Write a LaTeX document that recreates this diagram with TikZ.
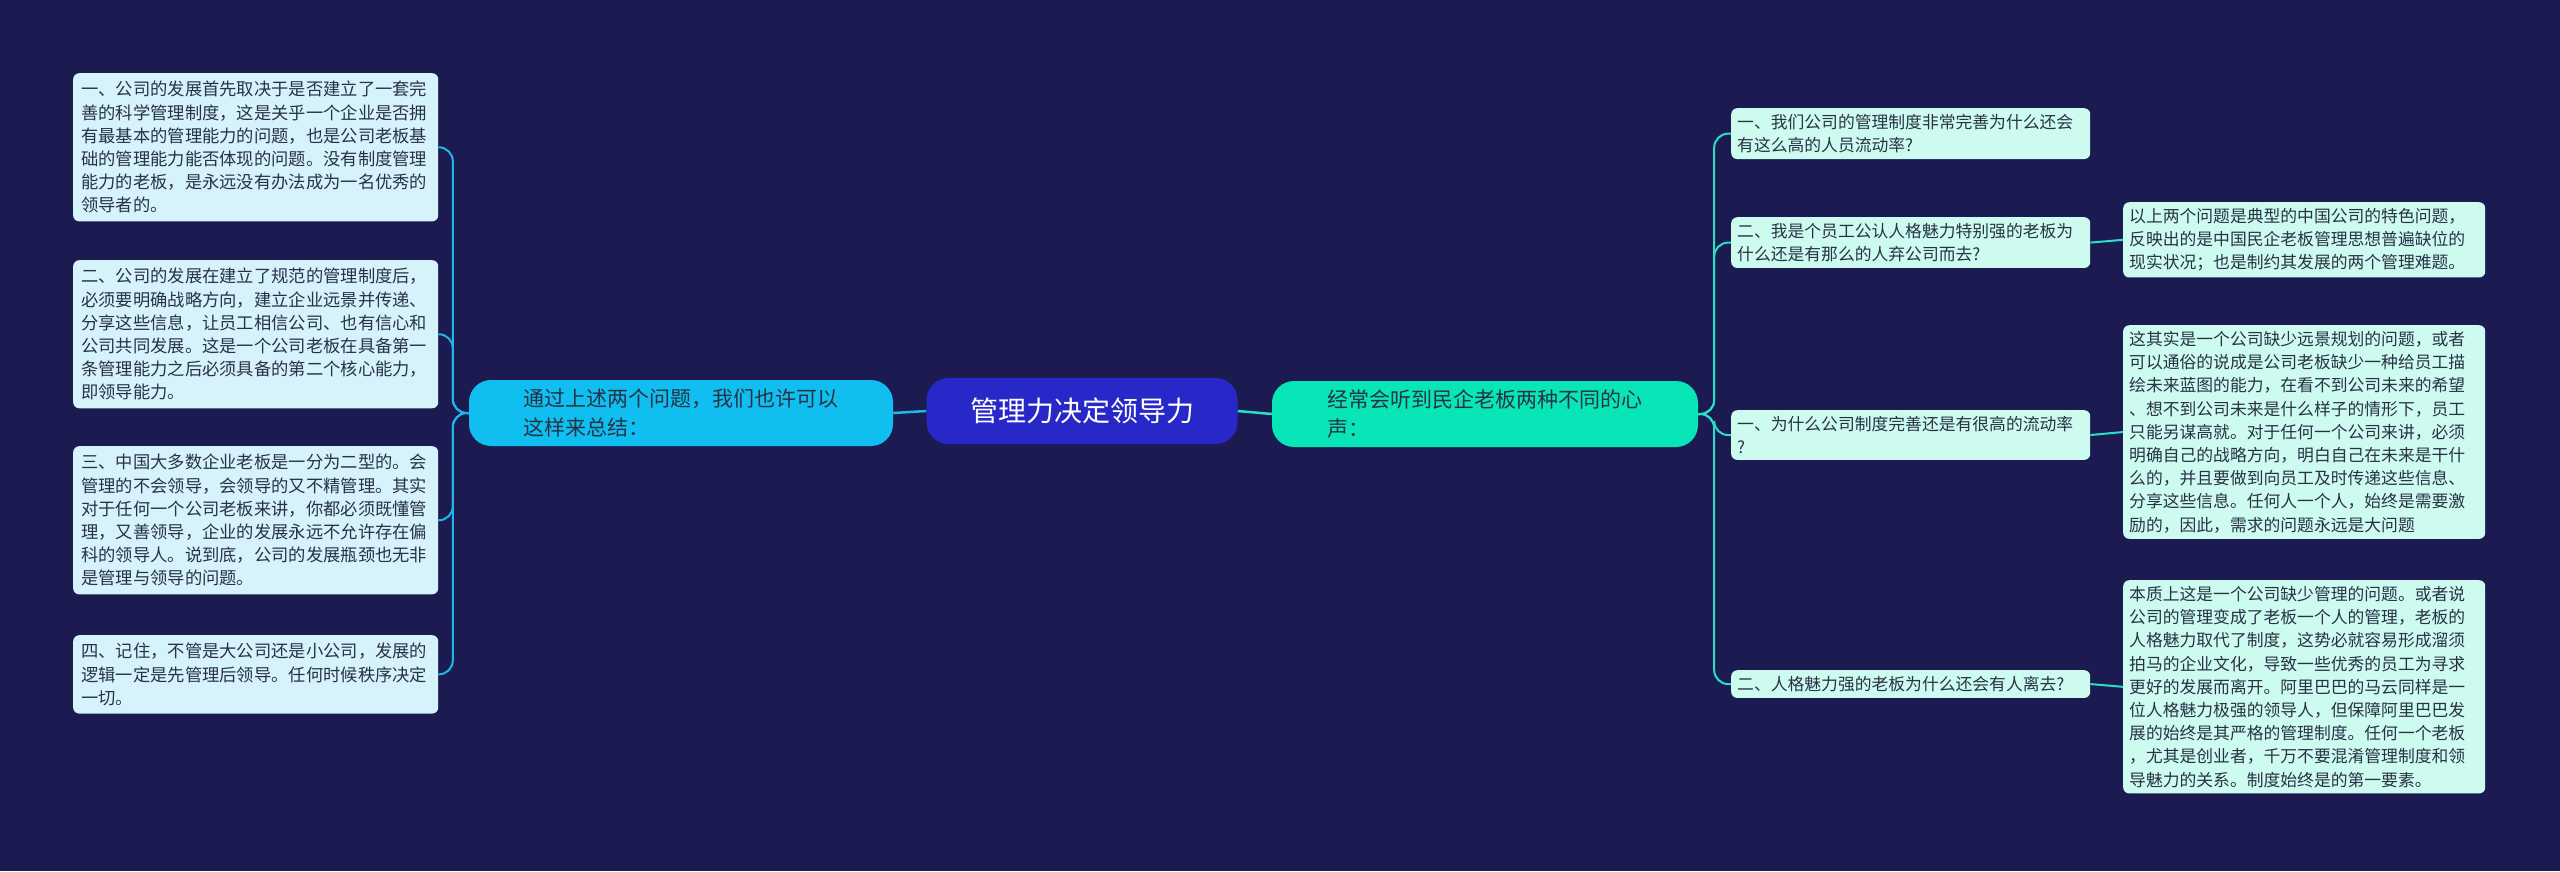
\documentclass[tikz,border=0pt]{standalone}
\usepackage{fontspec}
\setmainfont{Noto Sans CJK SC}
\XeTeXlinebreaklocale "zh"
\usepackage{tikz}
\usetikzlibrary{calc,positioning}
\definecolor{mybg}{RGB}{27,27,82}
\definecolor{mycenter}{RGB}{40,40,200}
\definecolor{myleft}{RGB}{16,190,240}
\definecolor{myright}{RGB}{8,230,184}
\definecolor{myleftleaf}{RGB}{214,243,252}
\definecolor{myrightleaf}{RGB}{206,251,240}
\definecolor{myleftline}{RGB}{30,184,232}
\definecolor{myrightline}{RGB}{40,224,196}
\definecolor{mytext}{RGB}{40,50,70}
\tikzstyle{hub}=[rounded corners=22pt,minimum height=66pt,inner sep=0pt,align=center]
\tikzstyle{leftleaf}=[fill=myleftleaf,rounded corners=6pt,anchor=north west,inner sep=8pt,text width=349pt,align=left,text=mytext,font=\fontsize{17.3}{23.2}\selectfont]
\tikzstyle{rightleaf}=[leftleaf,fill=myrightleaf,inner sep=6pt,font=\fontsize{16.8}{23.2}\selectfont]
\tikzstyle{leftedge}=[myleftline,line width=2pt,rounded corners=14pt]
\tikzstyle{rightedge}=[myrightline,line width=2pt,rounded corners=14pt]
\begin{document}
\begin{tikzpicture}[x=1pt,y=-1pt]
\useasboundingbox (0,0) rectangle (2560,871);
\fill[mybg] (0,0) rectangle (2560,871);
% center and main branches
\node [hub,fill=mycenter,text=white,minimum width=311pt,font=\fontsize{28}{32}\selectfont] (root) at (1082,411) {管理力决定领导力};
\node [hub,fill=myleft,text=mytext,minimum width=424pt,font=\fontsize{21}{29}\selectfont,align=left] (sum) at (681,413) {通过上述两个问题，我们也许可以\\这样来总结：};
\node [hub,fill=myright,text=mytext,minimum width=426pt,font=\fontsize{21}{29}\selectfont,align=left] (voice) at (1485,414) {经常会听到民企老板两种不同的心\\声：};
% left leaves
\node [leftleaf] (l1) at (73,73) {一、公司的发展首先取决于是否建立了一套完\\善的科学管理制度，这是关乎一个企业是否拥\\有最基本的管理能力的问题，也是公司老板基\\础的管理能力能否体现的问题。没有制度管理\\能力的老板，是永远没有办法成为一名优秀的\\领导者的。};
\node [leftleaf] (l2) at (73,260) {二、公司的发展在建立了规范的管理制度后，\\必须要明确战略方向，建立企业远景并传递、\\分享这些信息，让员工相信公司、也有信心和\\公司共同发展。这是一个公司老板在具备第一\\条管理能力之后必须具备的第二个核心能力，\\即领导能力。};
\node [leftleaf] (l3) at (73,446) {三、中国大多数企业老板是一分为二型的。会\\管理的不会领导，会领导的又不精管理。其实\\对于任何一个公司老板来讲，你都必须既懂管\\理，又善领导，企业的发展永远不允许存在偏\\科的领导人。说到底，公司的发展瓶颈也无非\\是管理与领导的问题。};
\node [leftleaf] (l4) at (73,635) {四、记住，不管是大公司还是小公司，发展的\\逻辑一定是先管理后领导。任何时候秩序决定\\一切。};
% right questions
\node [rightleaf,text width=347pt] (q1) at (1731,108) {一、我们公司的管理制度非常完善为什么还会\\有这么高的人员流动率?};
\node [rightleaf,text width=347pt] (q2) at (1731,217) {二、我是个员工公认人格魅力特别强的老板为\\什么还是有那么的人弃公司而去?};
\node [rightleaf,text width=347pt] (q3) at (1731,410) {一、为什么公司制度完善还是有很高的流动率\\?};
\node [rightleaf,text width=347pt] (q4) at (1731,670) {二、人格魅力强的老板为什么还会有人离去?};
% right answers
\node [rightleaf,text width=350pt] (a2) at (2123,202) {以上两个问题是典型的中国公司的特色问题，\\反映出的是中国民企老板管理思想普遍缺位的\\现实状况；也是制约其发展的两个管理难题。};
\node [rightleaf,text width=350pt] (a3) at (2123,325) {这其实是一个公司缺少远景规划的问题，或者\\可以通俗的说成是公司老板缺少一种给员工描\\绘未来蓝图的能力，在看不到公司未来的希望\\、想不到公司未来是什么样子的情形下，员工\\只能另谋高就。对于任何一个公司来讲，必须\\明确自己的战略方向，明白自己在未来是干什\\么的，并且要做到向员工及时传递这些信息、\\分享这些信息。任何人一个人，始终是需要激\\励的，因此，需求的问题永远是大问题};
\node [rightleaf,text width=350pt] (a4) at (2123,580) {本质上这是一个公司缺少管理的问题。或者说\\公司的管理变成了老板一个人的管理，老板的\\人格魅力取代了制度，这势必就容易形成溜须\\拍马的企业文化，导致一些优秀的员工为寻求\\更好的发展而离开。阿里巴巴的马云同样是一\\位人格魅力极强的领导人，但保障阿里巴巴发\\展的始终是其严格的管理制度。任何一个老板\\，尤其是创业者，千万不要混淆管理制度和领\\导魅力的关系。制度始终是的第一要素。};
% connectors
\draw [leftedge,line width=2.5pt] (root.west) -- (sum.east);
\draw [rightedge,line width=2.5pt] (root.east) -- (voice.west);
\foreach \n in {l1,l2,l3,l4}
  \draw [leftedge] (sum.west) -- ++(-16,0) |- (\n.east);
\foreach \n in {q1,q2,q3,q4}
  \draw [rightedge] (voice.east) -- ++(16,0) |- (\n.west);
\draw [rightedge] (q2.east) -- (a2.west);
\draw [rightedge] (q3.east) -- (a3.west);
\draw [rightedge] (q4.east) -- (a4.west);
\end{tikzpicture}
\end{document}
